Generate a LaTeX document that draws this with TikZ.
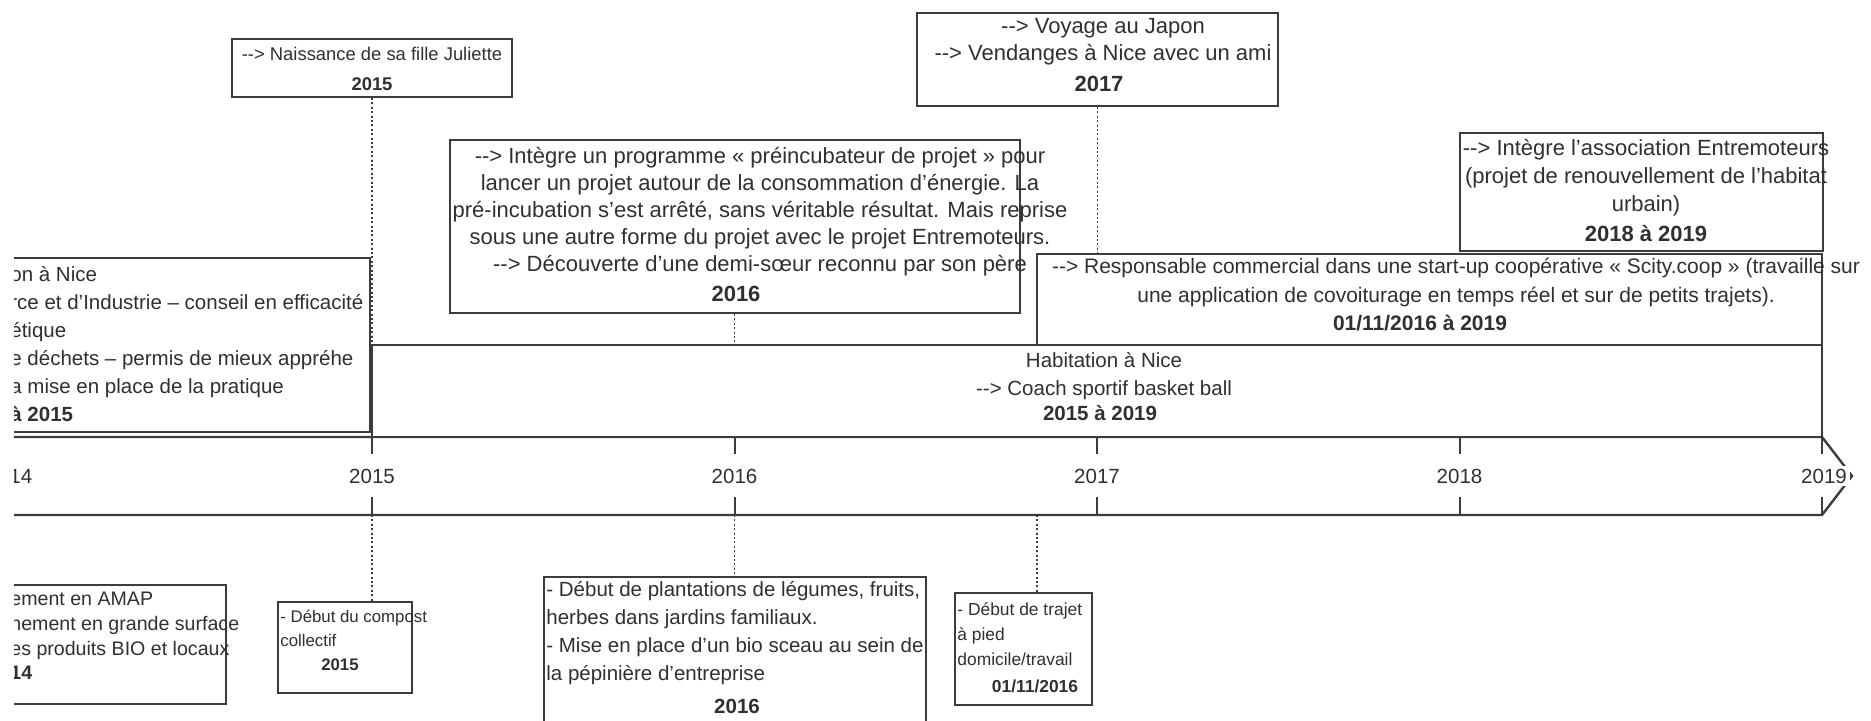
\documentclass[tikz,border=0pt]{standalone}
\usepackage{fontspec}
\setmainfont{Liberation Sans}
\usepackage{xcolor}
\usepackage{tikz}

\definecolor{ink}{HTML}{303030}
\definecolor{edge}{HTML}{3C3C3C}
\newcommand\evtfont[2]{\fontsize{#1}{#2}\selectfont}
\newcommand\darr{-{}->}

\begin{document}
\begin{tikzpicture}[x=0.5pt, y=-0.5pt,
    box/.style={draw=edge, line width=1pt, fill=white, inner sep=0pt},
    txt/.style={font=\evtfont{10.25}{14}, text=ink, align=center, inner sep=0pt},
    ltxt/.style={txt, align=left, anchor=west},
    date/.style={txt, font=\evtfont{10.25}{14}\bfseries},
    yr/.style={txt, fill=white, inner sep=1.5pt},
    link/.style={draw=edge, line width=0.8pt, dash pattern=on 1pt off 1.2pt},
    tick/.style={draw=edge, line width=1pt}]
  \useasboundingbox (0,0) rectangle (1871,721);
  \fill[white] (0,0) rectangle (1871,721);
  \clip (14,0) rectangle (1871,721);

  % time axis
  \draw[edge, line width=1.2pt, line join=miter] (-40,437) -- (1822,437) -- (1852,476) -- (1822,515) -- (-40,515);
  \draw[tick] (9.5,437) -- ++(0,17);   \draw[tick] (9.5,515) -- ++(0,-18);
  \draw[tick] (372,437) -- ++(0,17);   \draw[tick] (372,515) -- ++(0,-18);
  \draw[tick] (734.5,437) -- ++(0,17); \draw[tick] (734.5,515) -- ++(0,-18);
  \draw[tick] (1097,437) -- ++(0,17);  \draw[tick] (1097,515) -- ++(0,-18);
  \draw[tick] (1459.5,437) -- ++(0,17); \draw[tick] (1459.5,515) -- ++(0,-18);
  \draw[tick] (1822,437) -- ++(0,17);  \draw[tick] (1822,515) -- ++(0,-18);
  \node[yr] (y2014) at (9.5,476) {2014};
  \node[yr] (y2015) at (372,476) {2015};
  \node[yr] (y2016) at (734.5,476) {2016};
  \node[yr] (y2017) at (1097,476) {2017};
  \node[yr] (y2018) at (1459.5,476) {2018};
  \node[yr] (y2019) at (1824,476) {2019};
  \coordinate (b2015) at (372,515);
  \coordinate (b2016) at (734.5,515);
  \coordinate (b1611) at (1037,515);

  % above the axis
  \node[box, minimum width=195pt, minimum height=87pt] (form) at (175,345) {};
  \node[ltxt] (formT) at (10,344) {on à Nice\\rce et d'Industrie – conseil en efficacité\\étique\\e déchets – permis de mieux appréhe\\a mise en place de la pratique\\\textbf{à 2015}};
  \node[box, minimum width=725pt, minimum height=46pt] (habit) at (1097,391) {};
  \node[txt] (habitT) at (1104,376) {Habitation à Nice\\\darr{} Coach sportif basket ball};
  \node[date] (habitD) at (1100,413) {2015 à 2019};
  \node[box, minimum width=392.5pt, minimum height=45.5pt] (resp) at (1429.5,299.5) {};
  \node[txt, font=\evtfont{10.5}{14.5}] (respT) at (1456,282) {\darr{} Responsable commercial dans une start-up coopérative « Scity.coop » (travaille sur\\une application de covoiturage en temps réel et sur de petits trajets).};
  \node[date, font=\evtfont{10.5}{14.5}\bfseries] (respD) at (1420,323) {01/11/2016 à 2019};
  \node[box, minimum width=181.5pt, minimum height=59pt] (assoc) at (1641.5,192) {};
  \node[txt, font=\evtfont{11}{14}] (assocT) at (1646,178) {\darr{} Intègre l'association Entremoteurs\\(projet de renouvellement de l'habitat\\urbain)};
  \node[date, font=\evtfont{11}{14}\bfseries] (assocD) at (1646,234) {2018 à 2019};
  \node[box, minimum width=285pt, minimum height=86.5pt] (prog) at (735,226.5) {};
  \node[txt, font=\evtfont{11}{13.5}] (progT) at (760,212) {\darr{} Intègre un programme « préincubateur de projet » pour\\lancer un projet autour de la consommation d'énergie. La\\pré-incubation s'est arrêté, sans véritable résultat. Mais reprise\\sous une autre forme du projet avec le projet Entremoteurs.\\\darr{} Découverte d'une demi-sœur reconnu par son père};
  \node[date, font=\evtfont{11}{14}\bfseries] (progD) at (736,294) {2016};
  \node[box, minimum width=140pt, minimum height=29pt] (nais) at (372,68) {};
  \node[txt, font=\evtfont{9.2}{14}] (naisT) at (372,54) {\darr{} Naissance de sa fille Juliette};
  \node[date, font=\evtfont{9.2}{14}\bfseries] (naisD) at (372,84) {2015};
  \node[box, minimum width=180.5pt, minimum height=46.5pt] (voy) at (1097.5,59.5) {};
  \node[txt, font=\evtfont{11}{13.5}] (voyT) at (1103,42) {\darr{} Voyage au Japon\\\darr{} Vendanges à Nice avec un ami};
  \node[date, font=\evtfont{11}{14}\bfseries] (voyD) at (1099,84) {2017};

  % below the axis
  \node[box, minimum width=123pt, minimum height=59.5pt] (amap) at (103,644.5) {};
  \node[ltxt, font=\evtfont{9.8}{12.3}] (amapT) at (10,636) {ement en AMAP\\hement en grande surface\\es produits BIO et locaux\\\textbf{14}};
  \node[box, minimum width=67pt, minimum height=45.5pt] (comp) at (345,647.5) {};
  \node[ltxt, font=\evtfont{8.4}{12}] (compT) at (280,628) {- Début du compost\\collectif};
  \node[date, font=\evtfont{8.4}{12}\bfseries] (compD) at (340,665) {2015};
  \node[box, minimum width=191pt, minimum height=91.5pt] (plant) at (735,668.5) {};
  \node[ltxt] (plantT) at (546,633.5) {- Début de plantations de légumes, fruits,\\herbes dans jardins familiaux.\\- Mise en place d'un bio sceau au sein de\\la pépinière d'entreprise};
  \node[date] (plantD) at (737,706) {2016};
  \node[box, minimum width=68.5pt, minimum height=56pt] (traj) at (1023.5,649) {};
  \node[ltxt, font=\evtfont{8.7}{12.5}] (trajT) at (957,634) {- Début de trajet\\à pied\\domicile/travail};
  \node[date, font=\evtfont{8.7}{12.5}\bfseries] (trajD) at (1035,686) {01/11/2016};

  % dotted links
  \draw[link] (nais.south) -- (nais.south |- habit.north);
  \draw[link] (prog.south -| y2016) -- (y2016 |- habit.north);
  \draw[link] (voy.south) -- (voy.south |- resp.north);
  \draw[link] (b2015) -- (b2015 |- comp.north);
  \draw[link] (b2016) -- (b2016 |- plant.north);
  \draw[link] (b1611) -- (b1611 |- traj.north);
\end{tikzpicture}
\end{document}
